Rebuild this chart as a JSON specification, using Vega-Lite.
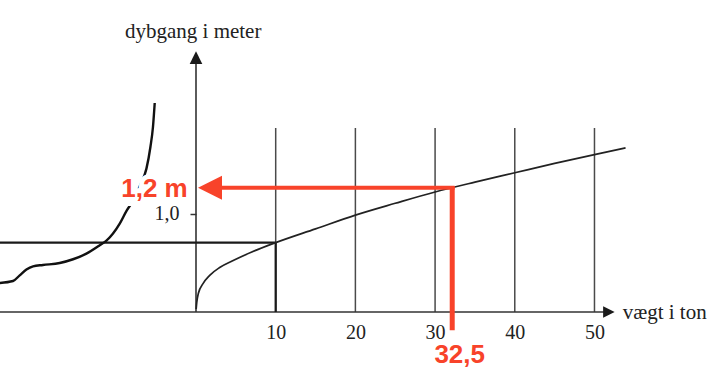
{
  "$schema": "https://vega.github.io/schema/vega-lite/v6.json",
  "autosize": "none",
  "width": 418,
  "height": 259,
  "padding": {"left": 196, "top": 53, "right": 106, "bottom": 74},
  "background": "white",
  "config": {"view": {"stroke": null}},
  "datasets": {
    "curve": [
      {"x": 0.02, "y": 0.03}, {"x": 0.1, "y": 0.1}, {"x": 0.3, "y": 0.19}, {"x": 0.88, "y": 0.289},
      {"x": 1.72, "y": 0.373}, {"x": 2.97, "y": 0.452}, {"x": 4.6, "y": 0.52}, {"x": 7, "y": 0.61},
      {"x": 10, "y": 0.705}, {"x": 15, "y": 0.845}, {"x": 20, "y": 0.985}, {"x": 25, "y": 1.105},
      {"x": 30, "y": 1.22}, {"x": 35, "y": 1.32}, {"x": 40, "y": 1.415}, {"x": 45, "y": 1.51},
      {"x": 50, "y": 1.6}, {"x": 53.9, "y": 1.668}
    ],
    "hull": [
      {"x": -24.63, "y": 0.295}, {"x": -22.96, "y": 0.315}, {"x": -22.12, "y": 0.373}, {"x": -21.28, "y": 0.431},
      {"x": -20.45, "y": 0.464}, {"x": -19.2, "y": 0.478}, {"x": -17.1, "y": 0.498}, {"x": -15.43, "y": 0.536},
      {"x": -13.75, "y": 0.593}, {"x": -12.08, "y": 0.678}, {"x": -11.24, "y": 0.725}, {"x": -9.57, "y": 0.898},
      {"x": -8.7, "y": 1.03}, {"x": -7.9, "y": 1.13}, {"x": -6.94, "y": 1.3}, {"x": -6.22, "y": 1.457},
      {"x": -5.72, "y": 1.677}, {"x": -5.4, "y": 1.88}, {"x": -5.18, "y": 2.124}
    ],
    "segments": [
      {"kind": "grid", "x": 10, "x2": 10, "y": 0, "y2": 1.87},
      {"kind": "grid", "x": 20, "x2": 20, "y": 0, "y2": 1.87},
      {"kind": "grid", "x": 30, "x2": 30, "y": 0, "y2": 1.87},
      {"kind": "grid", "x": 40, "x2": 40, "y": 0, "y2": 1.87},
      {"kind": "grid", "x": 50, "x2": 50, "y": 0, "y2": 1.87},
      {"kind": "axis", "x": -24.63, "x2": 52.0, "y": 0, "y2": 0},
      {"kind": "axis", "x": 0, "x2": 0, "y": 0, "y2": 2.56},
      {"kind": "box", "x": -24.63, "x2": 10, "y": 0.705, "y2": 0.705},
      {"kind": "box", "x": 10, "x2": 10, "y": 0, "y2": 0.705},
      {"kind": "redh", "x": 2.0, "x2": 32.45, "y": 1.262, "y2": 1.262},
      {"kind": "redv", "x": 32.15, "x2": 32.15, "y": -0.186, "y2": 1.28}
    ],
    "titles": [
      {"label": "dybgang i meter", "x": -0.35, "y": 2.785, "pos": "top"},
      {"label": "vægt i ton", "x": 53.54, "y": -0.067, "pos": "right"}
    ],
    "redlabels": [
      {"label": "1,2 m", "x": -1.04, "y": 1.169, "pos": "left"},
      {"label": "32,5", "x": 33.09, "y": -0.518, "pos": "bottom"}
    ],
    "heads": [
      {"kind": "red", "x": 0.25, "y": 1.262},
      {"kind": "yaxis", "x": 0, "y": 2.65},
      {"kind": "xaxis", "x": 52.53, "y": 0}
    ]
  },
  "encoding": {
    "x": {
      "field": "x", "type": "quantitative",
      "scale": {"domain": [0, 52.45], "nice": false, "zero": false},
      "axis": {
        "values": [10, 20, 30, 40, 50], "domain": false, "ticks": false, "tickSize": 0, "grid": false, "title": null,
        "labelFont": "Liberation Serif", "labelFontSize": 20, "labelColor": "#222", "labelPadding": 10, "labelFlush": false
      }
    },
    "y": {
      "field": "y", "type": "quantitative",
      "scale": {"domain": [0, 2.632], "nice": false, "zero": false},
      "axis": {
        "values": [1], "domain": false, "ticks": true, "tickSize": 6, "tickColor": "#333", "tickWidth": 1.5, "grid": false, "title": null,
        "labelExpr": "replace(format(datum.value, '.1f'), '.', ',')",
        "labelFont": "Liberation Serif", "labelFontSize": 20, "labelColor": "#222", "labelPadding": 11
      }
    }
  },
  "layer": [
    {
      "data": {"name": "segments"},
      "transform": [{"filter": "datum.kind === 'grid'"}],
      "mark": {"type": "rule", "color": "#4a4a4a", "strokeWidth": 1.5},
      "encoding": {"x2": {"field": "x2"}, "y2": {"field": "y2"}}
    },
    {
      "data": {"name": "segments"},
      "transform": [{"filter": "datum.kind === 'axis'"}],
      "mark": {"type": "rule", "color": "#333", "strokeWidth": 1.6},
      "encoding": {"x2": {"field": "x2"}, "y2": {"field": "y2"}}
    },
    {
      "data": {"name": "segments"},
      "transform": [{"filter": "datum.kind === 'box'"}],
      "mark": {"type": "rule", "color": "#1a1a1a", "strokeWidth": 2.2},
      "encoding": {"x2": {"field": "x2"}, "y2": {"field": "y2"}}
    },
    {
      "data": {"name": "curve"},
      "mark": {"type": "line", "color": "#222", "strokeWidth": 1.7, "interpolate": "monotone"},
      "encoding": {}
    },
    {
      "data": {"name": "hull"},
      "mark": {"type": "line", "color": "#111", "strokeWidth": 2.4, "interpolate": "monotone"},
      "encoding": {}
    },
    {
      "data": {"name": "segments"},
      "transform": [{"filter": "datum.kind === 'redh'"}],
      "mark": {"type": "rule", "color": "#F8432A", "strokeWidth": 4},
      "encoding": {"x2": {"field": "x2"}, "y2": {"field": "y2"}}
    },
    {
      "data": {"name": "segments"},
      "transform": [{"filter": "datum.kind === 'redv'"}],
      "mark": {"type": "rule", "color": "#F8432A", "strokeWidth": 5},
      "encoding": {"x2": {"field": "x2"}, "y2": {"field": "y2"}}
    },
    {
      "data": {"name": "heads"},
      "transform": [{"filter": "datum.kind === 'red'"}],
      "mark": {"type": "point", "shape": "M0,0L2,-1L2,1Z", "size": 576, "filled": true, "color": "#F8432A", "opacity": 1},
      "encoding": {}
    },
    {
      "data": {"name": "heads"},
      "transform": [{"filter": "datum.kind === 'yaxis'"}],
      "mark": {"type": "point", "shape": "M0,0L-1,2L1,2Z", "size": 160, "filled": true, "color": "#1a1a1a", "opacity": 1},
      "encoding": {}
    },
    {
      "data": {"name": "heads"},
      "transform": [{"filter": "datum.kind === 'xaxis'"}],
      "mark": {"type": "point", "shape": "M0,0L-2,-1L-2,1Z", "size": 132, "filled": true, "color": "#1a1a1a", "opacity": 1},
      "encoding": {}
    },
    {
      "data": {"name": "titles"},
      "transform": [{"filter": "datum.pos === 'top'"}],
      "mark": {"type": "text", "font": "Liberation Serif", "fontSize": 21, "color": "#222", "align": "center", "baseline": "alphabetic"},
      "encoding": {"text": {"field": "label"}}
    },
    {
      "data": {"name": "titles"},
      "transform": [{"filter": "datum.pos === 'right'"}],
      "mark": {"type": "text", "font": "Liberation Serif", "fontSize": 21, "color": "#222", "align": "left", "baseline": "alphabetic"},
      "encoding": {"text": {"field": "label"}}
    },
    {
      "data": {"name": "redlabels"},
      "transform": [{"filter": "datum.pos === 'left'"}],
      "mark": {"type": "text", "font": "Liberation Sans", "fontWeight": "bold", "fontSize": 26, "color": "white", "stroke": "white", "strokeWidth": 10, "align": "right", "baseline": "alphabetic"},
      "encoding": {"text": {"field": "label"}}
    },
    {
      "data": {"name": "redlabels"},
      "transform": [{"filter": "datum.pos === 'left'"}],
      "mark": {"type": "text", "font": "Liberation Sans", "fontWeight": "bold", "fontSize": 26, "color": "#F8432A", "align": "right", "baseline": "alphabetic"},
      "encoding": {"text": {"field": "label"}}
    },
    {
      "data": {"name": "redlabels"},
      "transform": [{"filter": "datum.pos === 'bottom'"}],
      "mark": {"type": "text", "font": "Liberation Sans", "fontWeight": "bold", "fontSize": 26, "color": "#F8432A", "align": "center", "baseline": "alphabetic"},
      "encoding": {"text": {"field": "label"}}
    }
  ]
}
